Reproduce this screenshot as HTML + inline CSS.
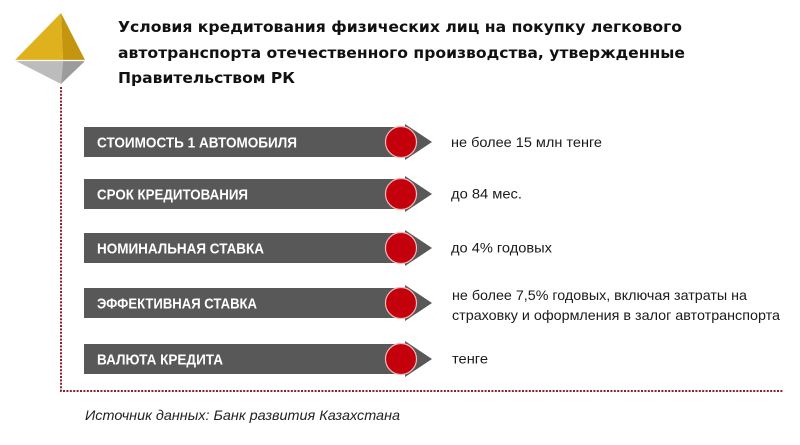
<!DOCTYPE html>
<html><head><meta charset="utf-8"><style>
html,body{margin:0;padding:0;background:#fff;}
svg{display:block;}
</style></head><body>
<svg width="800" height="445" viewBox="0 0 800 445" xmlns="http://www.w3.org/2000/svg">
<rect width="800" height="445" fill="#fff"/>
<!-- diamond -->
<polygon points="61,13 15,60 63,60" fill="#dfb11d"/>
<polygon points="61,13 63,60 85,60" fill="#c4960f"/>
<polygon points="16,61 63,61 61,84" fill="#bcbcbc"/>
<polygon points="63,61 85,61 61,84" fill="#9c9c9c"/>
<line x1="15" y1="60.5" x2="85" y2="60.5" stroke="#fff" stroke-width="1.2"/>
<!-- dotted frame -->
<path d="M61,87 V391 H783" fill="none" stroke="#8e1f2c" stroke-width="2" stroke-dasharray="2,1.4"/>
<!-- title -->
<g font-family="'DejaVu Sans','Liberation Sans',sans-serif" font-weight="bold" font-size="15" fill="#111">
<text x="118" y="32" textLength="564" lengthAdjust="spacingAndGlyphs">Условия кредитования физических лиц на покупку легкового</text>
<text x="118" y="58" textLength="567" lengthAdjust="spacingAndGlyphs">автотранспорта отечественного производства, утвержденные</text>
<text x="118" y="83" textLength="177" lengthAdjust="spacingAndGlyphs">Правительством РК</text>
</g>
<!-- rows -->
<g id="rows">
<!-- row 1 -->
<rect x="84" y="127" width="318" height="30" fill="#585858"/>
<polygon points="405,124 432,142 405,160" fill="#585858"/>
<circle cx="401" cy="142" r="15.5" fill="#c4000c" stroke="#f2b8b8" stroke-width="1.2"/>
<!-- row 2 -->
<rect x="84" y="179" width="318" height="30" fill="#585858"/>
<polygon points="405,176 432,194 405,212" fill="#585858"/>
<circle cx="401" cy="194" r="15.5" fill="#c4000c" stroke="#f2b8b8" stroke-width="1.2"/>
<!-- row 3 -->
<rect x="84" y="233" width="318" height="30" fill="#585858"/>
<polygon points="405,230 432,248 405,266" fill="#585858"/>
<circle cx="401" cy="248" r="15.5" fill="#c4000c" stroke="#f2b8b8" stroke-width="1.2"/>
<!-- row 4 -->
<rect x="84" y="288" width="318" height="30" fill="#585858"/>
<polygon points="405,285 432,303 405,321" fill="#585858"/>
<circle cx="401" cy="303" r="15.5" fill="#c4000c" stroke="#f2b8b8" stroke-width="1.2"/>
<!-- row 5 -->
<rect x="84" y="344" width="318" height="30" fill="#585858"/>
<polygon points="405,341 432,359 405,377" fill="#585858"/>
<circle cx="401" cy="359" r="15.5" fill="#c4000c" stroke="#f2b8b8" stroke-width="1.2"/>
</g>
<g font-family="'Liberation Sans',sans-serif" font-weight="bold" font-size="15" fill="#fff">
<text x="97" y="147.5" textLength="200" lengthAdjust="spacingAndGlyphs">СТОИМОСТЬ 1 АВТОМОБИЛЯ</text>
<text x="97" y="199.5" textLength="151" lengthAdjust="spacingAndGlyphs">СРОК КРЕДИТОВАНИЯ</text>
<text x="97" y="253.5" textLength="167" lengthAdjust="spacingAndGlyphs">НОМИНАЛЬНАЯ СТАВКА</text>
<text x="97" y="308.5" textLength="160" lengthAdjust="spacingAndGlyphs">ЭФФЕКТИВНАЯ СТАВКА</text>
<text x="97" y="364.5" textLength="126" lengthAdjust="spacingAndGlyphs">ВАЛЮТА КРЕДИТА</text>
</g>
<g font-family="'Liberation Sans',sans-serif" font-size="14" fill="#1a1a1a">
<text x="451" y="147" textLength="151" lengthAdjust="spacingAndGlyphs">не более 15 млн тенге</text>
<text x="451" y="198.5" textLength="71" lengthAdjust="spacingAndGlyphs">до 84 мес.</text>
<text x="451" y="252.5" textLength="101" lengthAdjust="spacingAndGlyphs">до 4% годовых</text>
<text x="452" y="300" textLength="295" lengthAdjust="spacingAndGlyphs">не более 7,5% годовых, включая затраты на</text>
<text x="452" y="320" textLength="328" lengthAdjust="spacingAndGlyphs">страховку и оформления в залог автотранспорта</text>
<text x="452" y="363.5" textLength="36" lengthAdjust="spacingAndGlyphs">тенге</text>
</g>
<text x="85" y="420" font-family="'Liberation Sans',sans-serif" font-style="italic" font-size="14" fill="#222" textLength="315" lengthAdjust="spacingAndGlyphs">Источник данных: Банк развития Казахстана</text>
</svg>
</body></html>
